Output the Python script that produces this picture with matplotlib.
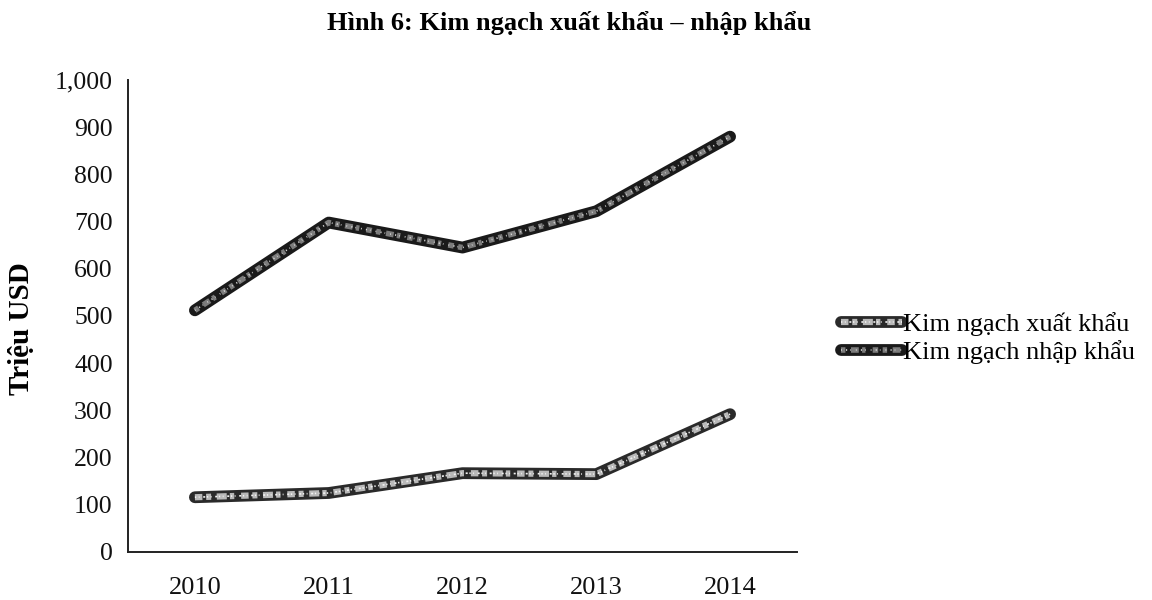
import matplotlib
matplotlib.use("Agg")
import matplotlib.pyplot as plt
from matplotlib.ticker import FuncFormatter

years = ["2010", "2011", "2012", "2013", "2014"]
xuat_khau = [116, 125, 167, 165, 292]
nhap_khau = [512, 698, 645, 722, 880]
series_names = ["Kim ngạch xuất khẩu", "Kim ngạch nhập khẩu"]
title = "Hình 6: Kim ngạch xuất khẩu – nhập khẩu"
y_label = "Triệu USD"

plt.rcParams['font.family'] = ['Liberation Serif', 'DejaVu Serif']

W, H = 1152, 600
fig = plt.figure(figsize=(W/100, H/100), dpi=100)
ax = fig.add_axes([128/W, 1 - 552/H, (797-128)/W, (552-80)/H])

x = list(range(len(years)))

def textured(xs, ys, base, over, over_lw, dashes, over2, dashes2):
    b, = ax.plot(xs, ys, color=base, lw=8.5, solid_capstyle="round",
                 solid_joinstyle="round", zorder=3)
    o, = ax.plot(xs, ys, color=over, lw=over_lw, dashes=dashes,
                 dash_capstyle="butt", solid_joinstyle="round", zorder=4)
    o2, = ax.plot(xs, ys, color=over2, lw=1.2, dashes=dashes2,
                  dash_capstyle="butt", zorder=5)
    return (b, o, o2)

h1 = textured(x, xuat_khau, "#2a2a2a", "#b8b8b8", 4.5,
              [1.2, 0.6, 0.8, 0.9, 1.6, 0.5, 0.7, 1.1],
              "#f2f2f2", [0.8, 1.5, 0.5, 2.2, 1.2, 1.0])
h2 = textured(x, nhap_khau, "#1a1a1a", "#7c7c7c", 4.0,
              [0.8, 1.0, 1.4, 0.6, 0.6, 1.3, 1.0, 0.8],
              "#d8d8d8", [0.5, 2.5, 0.7, 1.8, 0.4, 3.0])

ax.set_ylim(0, 1000)
ax.set_xlim(-0.5, 4.5)
ax.set_yticks(range(0, 1001, 100))
ax.yaxis.set_major_formatter(FuncFormatter(lambda v, p: f"{int(v):,}"))
ax.set_xticks(x)
ax.set_xticklabels(years)
ax.tick_params(axis="both", length=0, colors="#111111")
ax.tick_params(axis="y", labelsize=18.5, pad=11)
ax.tick_params(axis="x", labelsize=19, pad=18)
for s in ["top", "right"]:
    ax.spines[s].set_visible(False)
for s in ["left", "bottom"]:
    ax.spines[s].set_color("#222222")
    ax.spines[s].set_linewidth(1.4)

fig.text(21/W, 1 - 329/H, y_label, rotation=90, fontsize=21,
         fontweight="bold", ha="center", va="center")
fig.text(327/W, 1 - 30/H, title, fontsize=19, fontweight="bold",
         ha="left", va="baseline")

fig.legend(handles=[h1, h2], labels=series_names, loc="center left",
           bbox_to_anchor=(841/W, 1 - 338/H), frameon=False, fontsize=19,
           handlelength=2.3, handletextpad=0.05, labelspacing=0.15,
           borderpad=0, borderaxespad=0)

fig.savefig("out.png", dpi=100, facecolor="white")
